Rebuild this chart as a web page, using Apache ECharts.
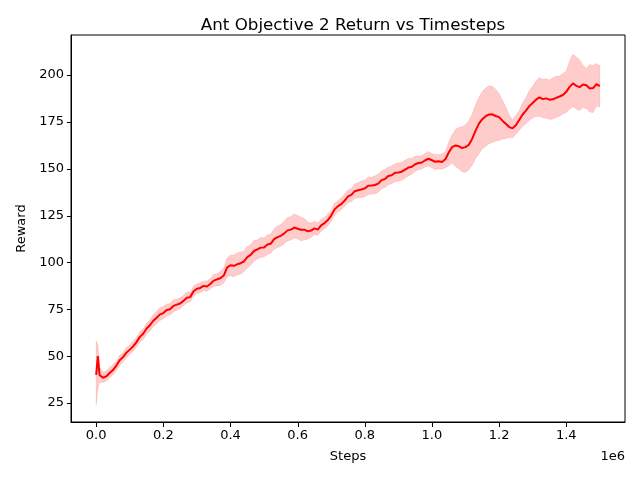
<!DOCTYPE html>
<html><head><meta charset="utf-8">
<script src="https://cdn.jsdelivr.net/npm/echarts@6/dist/echarts.min.js"></script>
<style>html,body{margin:0;padding:0;background:#fff}#c{width:640px;height:480px}</style>
</head><body><div id="c"></div>
<script>
const steps = [0,5000,10000,20000,30000,40000,50000,60000,70000,80000,90000,100000,110000,120000,130000,140000,150000,160000,170000,180000,190000,200000,210000,220000,230000,240000,250000,260000,270000,280000,290000,300000,310000,320000,330000,340000,350000,360000,370000,380000,390000,400000,410000,420000,430000,440000,450000,460000,470000,480000,490000,500000,510000,520000,530000,540000,550000,560000,570000,580000,590000,600000,610000,620000,630000,640000,650000,660000,670000,680000,690000,700000,710000,720000,730000,740000,750000,760000,770000,780000,790000,800000,810000,820000,830000,840000,850000,860000,870000,880000,890000,900000,910000,920000,930000,940000,950000,960000,970000,980000,990000,1000000,1010000,1020000,1030000,1040000,1050000,1060000,1070000,1080000,1090000,1100000,1110000,1120000,1130000,1140000,1150000,1160000,1170000,1180000,1190000,1200000,1210000,1220000,1230000,1240000,1250000,1260000,1270000,1280000,1290000,1300000,1310000,1320000,1330000,1340000,1350000,1360000,1370000,1380000,1390000,1400000,1410000,1420000,1430000,1440000,1450000,1460000,1470000,1480000,1490000,1500000];
const meanReward = [40,50,40,38.5,39.2,41,42.6,45,47.8,49.5,51.9,53.5,55.2,57.5,60.3,62,64.8,66.5,68.9,70.5,72.3,73,74.6,75,76.8,77.5,78.1,79.5,81.2,81.5,84.6,86,86.4,87.5,87.2,88.5,90.3,91,91.6,93,97.4,98.5,98.2,99,99.6,100.5,102.8,104,106.1,107,107.9,108,109.6,110,112.4,113.5,114.2,115.5,117.1,117.5,118.6,118,117.4,117.5,116.6,117,118.2,117.5,119.8,121,122.6,125,128.3,130,131.1,133,135.2,136,138,138.5,138.9,139.5,140.9,141,141.3,142,143.9,144.5,146.1,146.5,147.8,148,148.4,149.5,150.6,151,152.4,153,153.3,154.5,155.3,154.5,153.7,154,153.6,155,158.6,161.5,162.4,162,161,161.5,162.8,166,170.3,174,176.4,178,178.9,179,178.1,177.5,175.6,174,172.2,171.5,173.2,176,178.9,181,183.4,185,186.8,188,187.1,187.5,186.8,187,187.8,188.5,189.3,191,193.6,195.5,194.2,193.5,194.9,194.5,192.8,193,195.1,194];
const lowerReward = [24,33,36,36,36.8,38.5,40.1,42.5,45,47,49.2,51,52.6,55,57.4,59,61.7,63.5,65.8,67.5,69,70,71.4,72,73.6,74.5,75.3,77,78.4,79,82,83.5,83.8,85,84.6,86,87.3,87.5,87.9,89,92.1,93,92.4,93.5,93.8,95,97.1,98.5,100.6,102,102.7,103,104.3,105,107.1,108,108.6,110,111.5,112,113,112.5,111.6,112,112.4,113.5,114.8,114.5,116.6,118,119.6,122,125.1,127,128.2,130,132,132.5,134.2,134.5,134.6,135,136.2,136.5,136.6,137.5,139.3,140,141.4,142,143.1,143.5,143.8,145,146.3,147,148.5,149.5,149.8,151,151.4,150.5,149.6,150,149.7,150.5,151.6,153,151.2,150,148.4,148,149.6,152,155.4,158,160.6,162,163.3,164,164.8,165,165.9,166,166.8,166.5,168.4,170.5,172.6,174,175.8,177,177.9,178,177.2,177,176.3,176.5,177.4,178,179.2,180,181.9,183,181.8,181,182.6,182,180.3,180,183.4,183];
const upperReward = [58,56,44,41.5,42,44,45.4,47.5,50.5,52,54.6,56,58.1,60,63,64.5,67.6,69.5,72.3,74,75.8,76.5,77.9,78,80.1,80.5,81.2,82.5,84.3,84,87.4,88.5,89.2,90,90.1,91.5,93.6,94,95.2,97,102.3,104,103.8,105,105.6,106,108.4,109.5,111.8,112,113.4,113,114.8,115,118,119.5,120.2,122,124,124.5,125.8,125,124.1,123.5,121.4,121,122,121,123.1,124,125.8,128,131.6,133,134.4,136.5,138.6,139.5,141.8,142.5,143.4,144,145.6,145.5,146.1,147,148.8,149.5,150.9,151.5,152.6,153,153.3,154.5,155.4,155.5,156.6,156.5,157.1,158,159.2,158,157.6,157.5,157.8,159,164.2,168,170.8,172,172.4,173.5,175.6,179,184.1,188,191.2,193,194.3,194,192.2,190,186.4,183,178.7,176,178.2,181,185.1,188,191.6,194,196.8,198.5,197.6,198,197.2,198.5,199.3,199.5,200.8,202,207.4,211,209.6,208,205.1,203.5,205.6,205,206.1,205];
const xTicks = [0,200000,400000,600000,800000,1000000,1200000,1400000];
const yTicks = [25,50,75,100,125,150,175,200];

const X_MIN = -75000, X_MAX = 1575000, Y_MIN = 14.9, Y_MAX = 221.3;
const meanData = steps.map((s,i)=>[s,meanReward[i]]);
const FONT = 'DejaVu Sans';
const chart = echarts.init(document.getElementById('c'), null, {renderer:'canvas'});
chart.setOption({
  animation:false,
  backgroundColor:'#fff',
  textStyle:{fontFamily:FONT},
  title:{text:'Ant Objective 2 Return vs Timesteps', left:348, top:12, textAlign:'center',
    textStyle:{fontFamily:FONT,fontSize:16.7,fontWeight:'normal',color:'#000'}},
  grid:{left:71,right:15,top:35,bottom:58,show:true,borderColor:'#000',borderWidth:1,backgroundColor:'transparent'},
  xAxis:{type:'value',min:X_MIN,max:X_MAX,
    name:'Steps',nameLocation:'middle',nameGap:28,nameTextStyle:{fontFamily:FONT,fontSize:13,color:'#000'},
    axisLine:{show:true,onZero:false,lineStyle:{color:'#000',width:1}},splitLine:{show:false},
    axisTick:{show:false},
    axisLabel:{customValues:xTicks,margin:7,fontFamily:FONT,fontSize:13,color:'#000',
      formatter:v=>(v/1e6).toFixed(1)}},
  yAxis:{type:'value',min:Y_MIN,max:Y_MAX,
    name:'Reward',nameLocation:'middle',nameRotate:90,nameGap:42,nameTextStyle:{fontFamily:FONT,fontSize:13,color:'#000'},
    axisLine:{show:true,onZero:false,lineStyle:{color:'#000',width:1}},splitLine:{show:false},
    axisTick:{show:false},
    axisLabel:{customValues:yTicks,margin:7,fontFamily:FONT,fontSize:13,color:'#000'}},
  series:[
    {type:'custom',silent:true,data:[[0,0]],z:1,
      renderItem:function(params,api){
        const pts=[];
        for(let i=0;i<steps.length;i++) pts.push(api.coord([steps[i],upperReward[i]]));
        for(let i=steps.length-1;i>=0;i--) pts.push(api.coord([steps[i],lowerReward[i]]));
        return {type:'polygon',shape:{points:pts},style:{fill:'rgba(255,0,0,0.2)',stroke:'rgba(255,0,0,0.12)',lineWidth:1}};
      }},
    {type:'line',data:meanData,symbol:'none',silent:true,z:3,
      lineStyle:{color:'#ff0000',width:2}}
  ]
});
const tickEls=[{type:'text',right:15,top:450,style:{text:'1e6',fontFamily:FONT,fontSize:13,fill:'#000'}}];
xTicks.forEach(t=>{
  const p=chart.convertToPixel({xAxisIndex:0},t);
  tickEls.push({type:'rect',z:100,left:Math.round(p),top:423,shape:{width:1,height:4},style:{fill:'#000'}});
});
yTicks.forEach(t=>{
  const p=chart.convertToPixel({yAxisIndex:0},t);
  tickEls.push({type:'rect',z:100,left:67,top:Math.round(p),shape:{width:4,height:1},style:{fill:'#000'}});
});
chart.setOption({graphic:tickEls});
</script></body></html>
